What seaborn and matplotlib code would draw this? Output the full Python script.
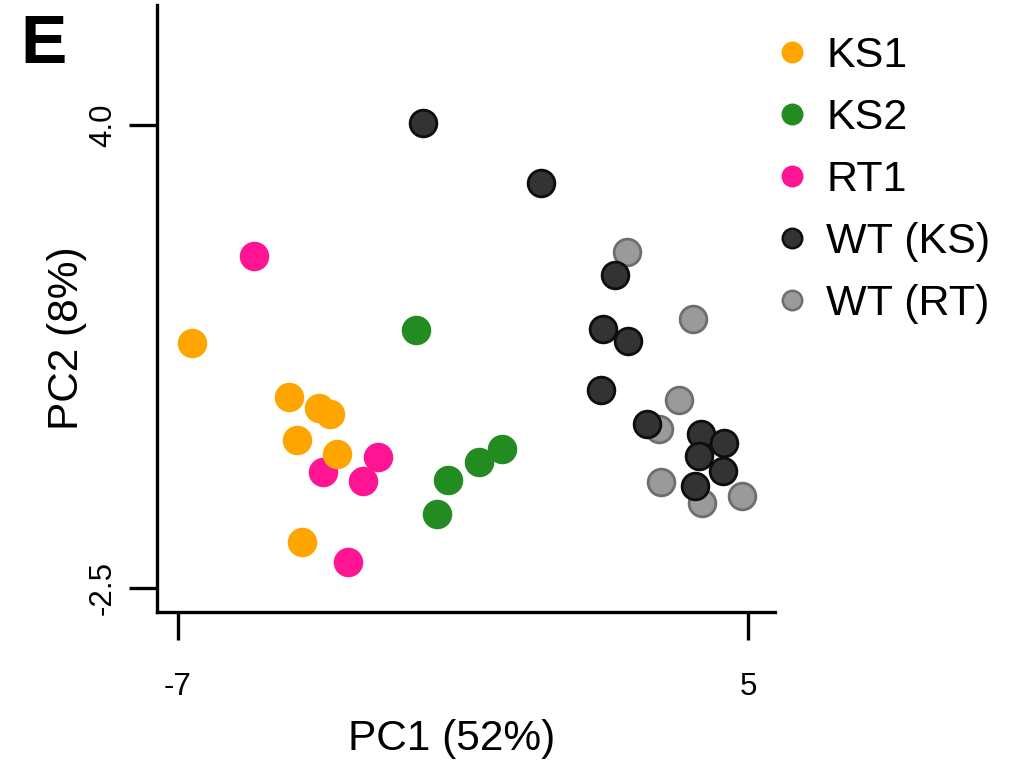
import numpy as np
import pandas as pd
import matplotlib
matplotlib.use("Agg")
import matplotlib.pyplot as plt
from matplotlib.lines import Line2D
import seaborn as sns

# ---- data ----
groups = ["KS1", "KS2", "RT1", "WT (KS)", "WT (RT)"]
ks1_x = [-6.71, -4.66, -4.03, -3.80, -4.49, -3.65, -4.39]
ks1_y = [0.94, 0.18, 0.03, -0.06, -0.42, -0.62, -1.85]
ks2_x = [-1.99, -0.18, -0.66, -1.32, -1.55]
ks2_y = [1.12, -0.55, -0.73, -0.98, -1.46]
rt1_x = [-5.40, -2.79, -3.95, -3.11, -3.42]
rt1_y = [2.16, -0.66, -0.87, -1.00, -2.14]
wtks_x = [-1.84, 0.64, 2.20, 1.95, 2.47, 1.91, 2.87, 4.01, 4.49, 3.97, 4.47, 3.88]
wtks_y = [4.03, 3.19, 1.89, 1.14, 0.97, 0.28, -0.20, -0.34, -0.46, -0.65, -0.86, -1.07]
wtrt_x = [2.45, 3.84, 3.55, 3.13, 3.17, 4.03, 4.87]
wtrt_y = [2.22, 1.28, 0.14, -0.27, -1.01, -1.31, -1.21]

x_ticks = [-7, 5]
x_ticklabels = ["-7", "5"]
y_ticks = [-2.5, 4.0]
y_ticklabels = ["-2.5", "4.0"]

df = pd.concat([
    pd.DataFrame({"PC1": ks1_x, "PC2": ks1_y, "group": "KS1"}),
    pd.DataFrame({"PC1": ks2_x, "PC2": ks2_y, "group": "KS2"}),
    pd.DataFrame({"PC1": rt1_x, "PC2": rt1_y, "group": "RT1"}),
    pd.DataFrame({"PC1": wtks_x, "PC2": wtks_y, "group": "WT (KS)"}),
    pd.DataFrame({"PC1": wtrt_x, "PC2": wtrt_y, "group": "WT (RT)"}),
], ignore_index=True)

face = {"KS1": "#FFA500", "KS2": "#228B22", "RT1": "#FF1493",
        "WT (KS)": "#333333", "WT (RT)": "#9A9A9A"}
edge = {"KS1": "#FFA500", "KS2": "#228B22", "RT1": "#FF1493",
        "WT (KS)": "#0D0D0D", "WT (RT)": "#6E6E6E"}
draw_order = ["WT (RT)", "WT (KS)", "RT1", "KS2", "KS1"]

sns.set_theme(style="ticks")
plt.rcParams["font.family"] = ["Liberation Sans", "DejaVu Sans"]
plt.rcParams["text.color"] = "black"
plt.rcParams["axes.labelcolor"] = "black"

fig = plt.figure(figsize=(10.14, 7.62), dpi=100)
ax = fig.add_axes([157/1014, 1-612/762, (775-157)/1014, (612-5)/762])

for g in draw_order:
    sub = df[df["group"] == g]
    sns.scatterplot(data=sub, x="PC1", y="PC2", ax=ax, color=face[g],
                    edgecolor=edge[g], linewidth=2.0, s=370, legend=False,
                    zorder=3)

ax.set_xlim(-7.442, 5.568)
ax.set_ylim(-2.837, 5.685)
ax.set_xticks(x_ticks)
ax.set_xticklabels(x_ticklabels)
ax.set_yticks(y_ticks)
ax.set_yticklabels(y_ticklabels, rotation=90, va="center")
for s in ["top", "right"]:
    ax.spines[s].set_visible(False)
for s in ["left", "bottom"]:
    ax.spines[s].set_linewidth(2.4)
    ax.spines[s].set_color("black")
ax.tick_params(axis="both", length=20, width=2.4, color="black",
               labelsize=22.5, labelcolor="black")
ax.tick_params(axis="x", pad=23)
ax.tick_params(axis="y", pad=8)
ax.set_xlabel("PC1 (52%)", fontsize=30.5)
ax.set_ylabel("PC2 (8%)", fontsize=30.5)
ax.xaxis.set_label_coords(0.477, -0.176)
ax.yaxis.set_label_coords(-0.113, 0.451)

handles = [Line2D([], [], marker="o", linestyle="", markersize=14,
                  markerfacecolor=face[g], markeredgecolor=edge[g],
                  markeredgewidth=1.8, label=g) for g in groups]
leg = fig.legend(handles=handles, loc="upper left",
                 bbox_to_anchor=(770/1014, 1-36/762), frameon=False,
                 fontsize=31, handletextpad=0.31, labelspacing=0.51,
                 handlelength=1.0, borderaxespad=0, borderpad=0)

fig.text(20/1014, 1-63/762, "E", fontsize=50, fontweight="bold",
         ha="left", va="baseline")

fig.savefig("out.png", dpi=100, facecolor="white")
